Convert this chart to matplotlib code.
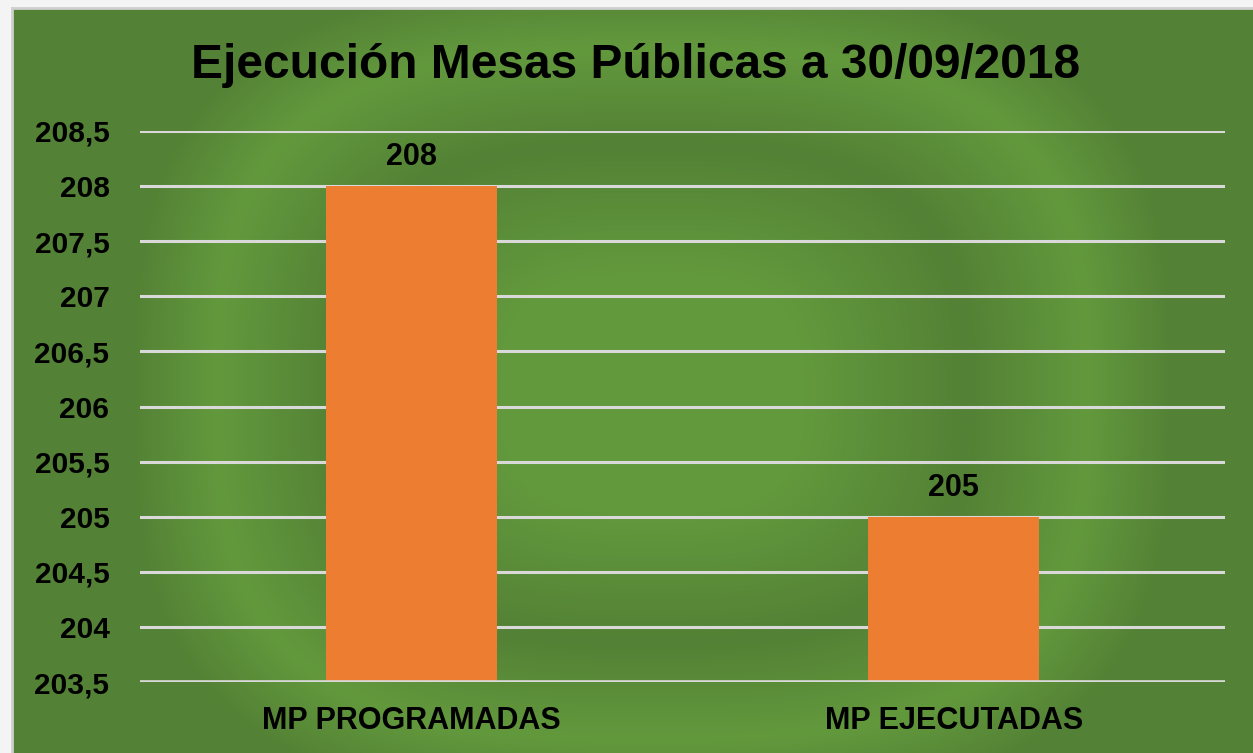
import numpy as np
import matplotlib.pyplot as plt
from matplotlib.ticker import FuncFormatter

# data
categories = ["MP PROGRAMADAS", "MP EJECUTADAS"]
values = [208, 205]
y_ticks = [203.5, 204, 204.5, 205, 205.5, 206, 206.5, 207, 207.5, 208, 208.5]
title = "Ejecución Mesas Públicas a 30/09/2018"

plt.rcParams['font.family'] = ['Liberation Sans', 'DejaVu Sans']

W, H = 1253, 753
fig = plt.figure(figsize=(W / 100, H / 100), dpi=100)
fig.patch.set_facecolor('#F4F4F4')

# green background with ring-like gradient (Excel style)
gx0, gy0 = 12, 8
nx, ny = W - gx0, H - gy0
bg = fig.add_axes([gx0 / W, 0, nx / W, ny / H])
xx, yy = np.meshgrid(np.arange(nx), np.arange(ny))
cx, cy = 640, 385
rx, ry = 435, 345
p = 3.0
t = ((np.abs(xx - cx) / rx) ** p + (np.abs(yy - cy) / ry) ** p) ** (1 / p)
light = np.array([99, 153, 61]) / 255
dark = np.array([83, 129, 53]) / 255
w = np.interp(t, [0, 0.35, 0.72, 1.0, 1.2, 5], [1, 1, 0, 1, 0, 0])
img = dark + (light - dark) * w[..., None]
bg.imshow(img, aspect='auto', extent=(0, nx, ny, 0), interpolation='bilinear')
bg.set_xlim(0, nx)
bg.set_ylim(ny, 0)
bg.set_xticks([])
bg.set_yticks([])
for s in ['right', 'bottom']:
    bg.spines[s].set_visible(False)
for s in ['left', 'top']:
    bg.spines[s].set_color('#CFCFCF')
    bg.spines[s].set_linewidth(2)

# main chart axes
ax = fig.add_axes([140 / W, 1 - 682 / H, (1225 - 140) / W, (682 - 131) / H])
ax.patch.set_alpha(0)
x = np.arange(len(categories))
bars = ax.bar(x, values, width=0.315, color='#ED7D31', zorder=3)
ax.set_xlim(-0.5, len(categories) - 0.5)
ax.set_ylim(y_ticks[0], y_ticks[-1])
ax.set_yticks(y_ticks)
ax.yaxis.set_major_formatter(FuncFormatter(
    lambda v, pos: (f"{v:g}").replace('.', ',')))
ax.grid(axis='y', color='#D9D9D9', linewidth=2.2, zorder=1)
ax.set_axisbelow(True)
for s in ax.spines.values():
    s.set_visible(False)
ax.axhline(y_ticks[0], color='#D9D9D9', linewidth=2.6, zorder=4)

ax.set_xticks(x)
ax.set_xticklabels(categories, fontsize=22, fontweight='bold')
ax.tick_params(axis='x', length=0, pad=17)
ax.tick_params(axis='y', length=0, pad=22, labelsize=21.5)
for lab in ax.get_yticklabels():
    lab.set_fontweight('bold')

for b, v in zip(bars, values):
    ax.annotate(f"{v}", (b.get_x() + b.get_width() / 2, v),
                xytext=(0, 10), textcoords='offset points',
                ha='center', va='bottom', fontsize=22, fontweight='bold')

fig.text(636 / W, 1 - 65 / H, title, ha='center', va='center',
         fontsize=34.5, fontweight='bold')

fig.savefig("out.png", dpi=100)
